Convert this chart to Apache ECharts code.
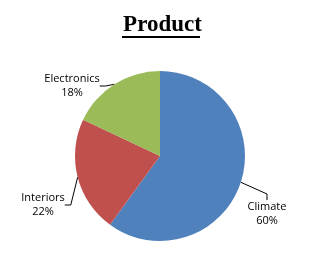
<!DOCTYPE html>
<html><head><meta charset="utf-8">
<script src="https://cdn.jsdelivr.net/npm/echarts@6/dist/echarts.min.js"></script>
<style>html,body{margin:0;padding:0;background:#fff}#c{width:325px;height:273px}</style>
</head><body><div id="c"></div>
<script>
const categories = ['Climate', 'Interiors', 'Electronics'];
const values = [60, 22, 18];
const colors = ['#4F81BD', '#C0504D', '#9BBB59'];
const labelPos = [[267, 214], [43, 205], [72, 86]];

const chart = echarts.init(document.getElementById('c'), null, {renderer: 'canvas'});
chart.setOption({
  backgroundColor: '#fff',
  animation: false,
  title: {
    text: 'Product', left: 'center', top: 9,
    textStyle: {fontFamily: 'Liberation Serif', fontWeight: 'bold', fontSize: 23, color: '#000'}
  },
  graphic: [{type: 'rect', shape: {x: 122, y: 36, width: 78, height: 2}, style: {fill: '#000'}}],
  series: [{
    type: 'pie',
    center: [160, 156],
    radius: 85,
    startAngle: 90,
    clockwise: true,
    data: categories.map((c, i) => ({name: c, value: values[i], itemStyle: {color: colors[i]}})),
    label: {
      show: true, overflow: 'none',
      formatter: p => p.name + '\n' + Math.round(p.percent) + '%',
      fontFamily: 'Open Sans', fontSize: 11, color: '#000', lineHeight: 14, align: 'center'
    },
    labelLine: {show: true, length: 8, length2: 6, lineStyle: {color: '#000', width: 1}},
    labelLayout: p => ({x: labelPos[p.dataIndex][0], y: labelPos[p.dataIndex][1], align: 'center', verticalAlign: 'middle'})
  }]
});
</script></body></html>
